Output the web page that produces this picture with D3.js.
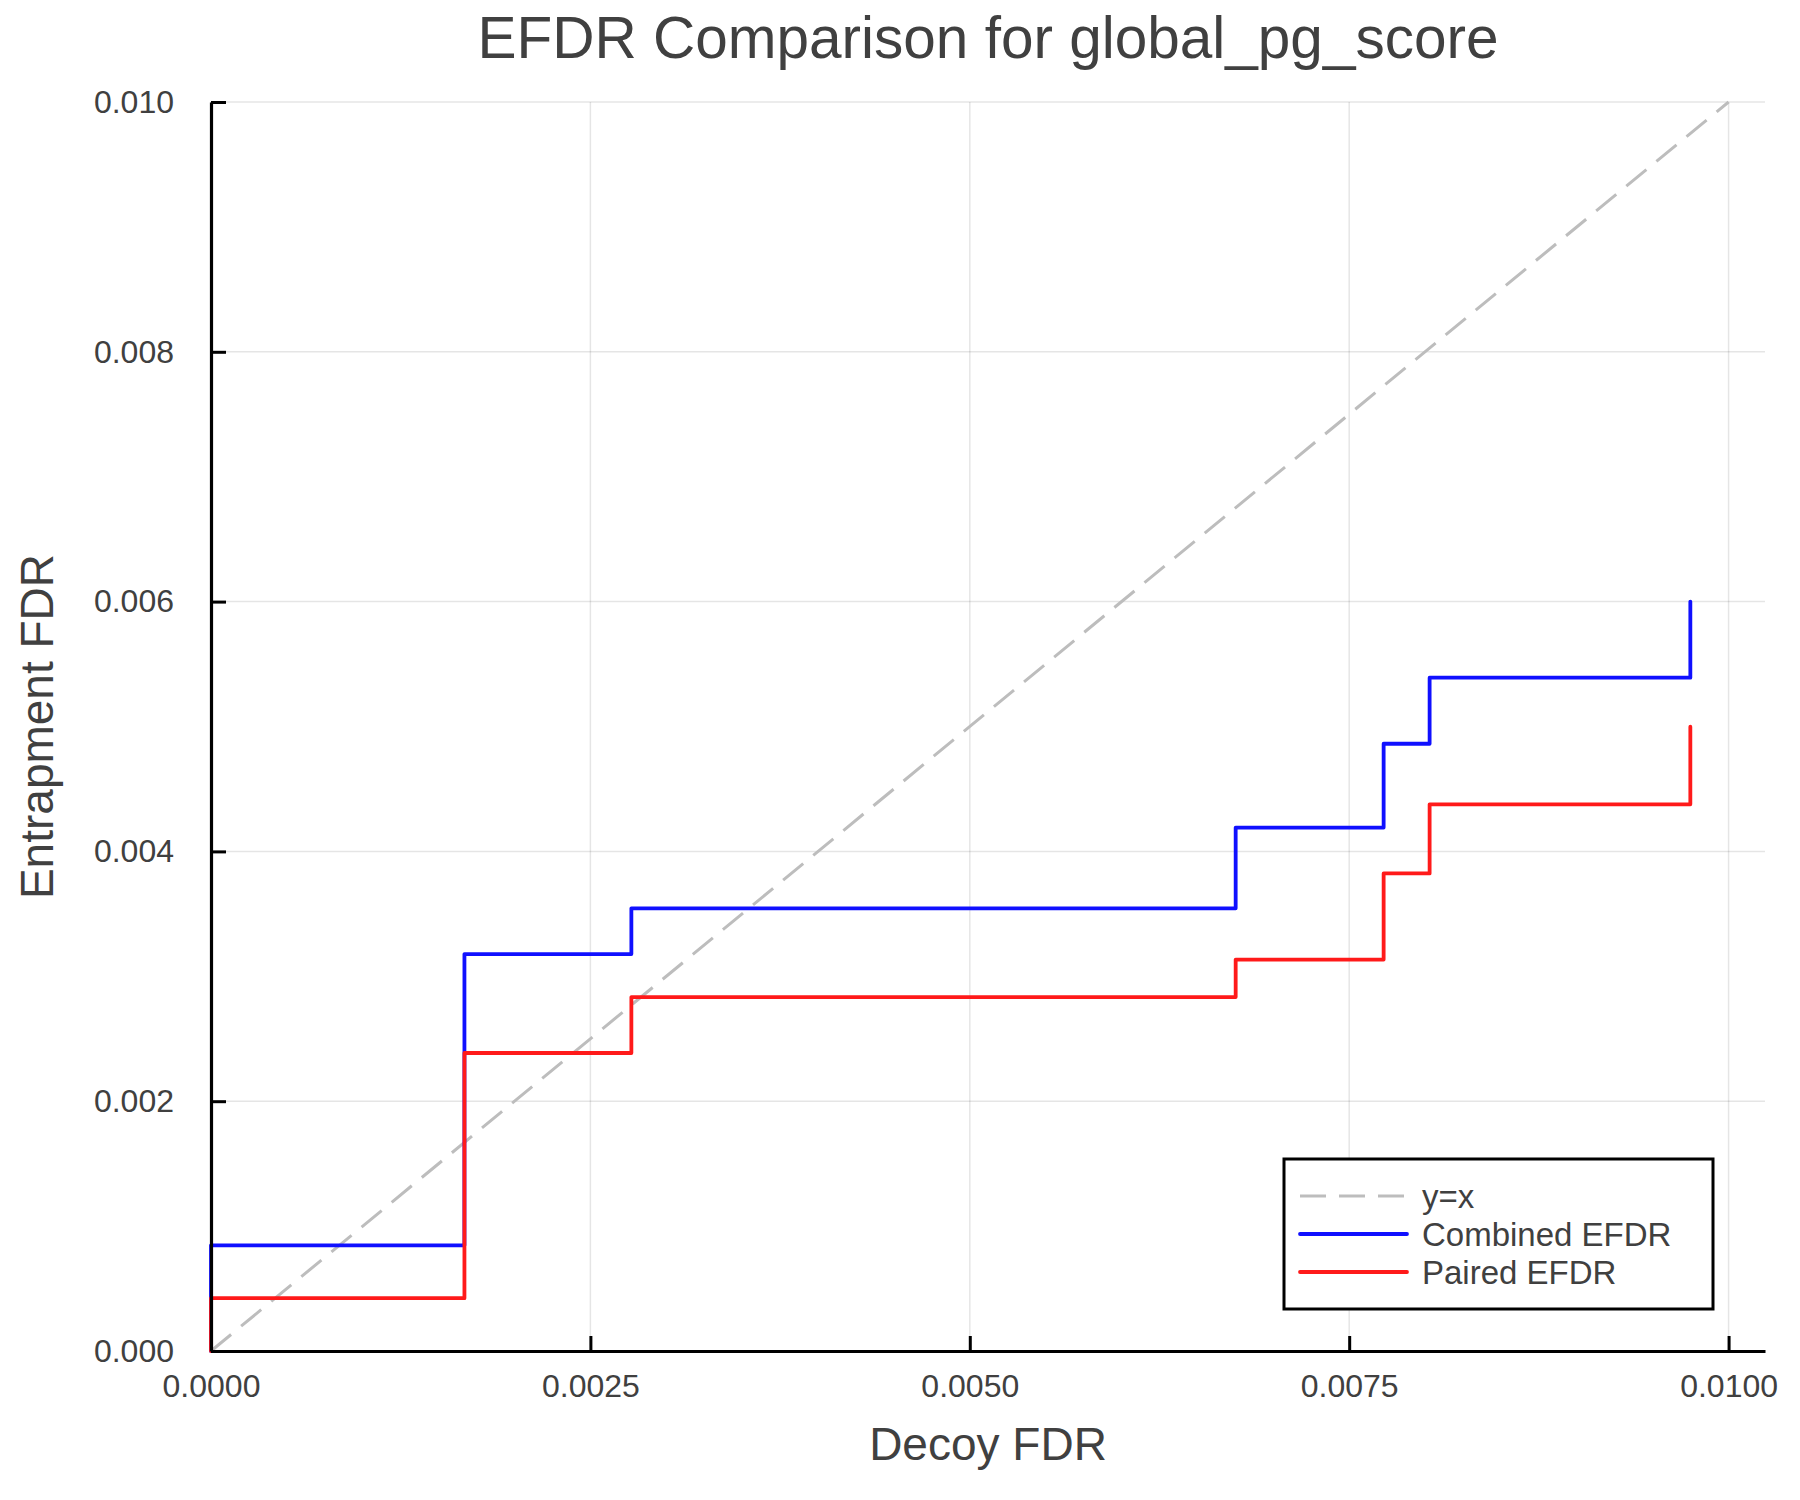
<!DOCTYPE html>
<html>
<head>
<meta charset="utf-8">
<script src="https://cdn.jsdelivr.net/npm/d3@7"></script>
<style>
  body { margin: 0; background: #fff; }
  svg text { font-family: "Liberation Sans", Arial, sans-serif; fill: #404040; }
  .axis path, .axis line { stroke: #000; stroke-width: 3; }
  .axis text { font-size: 32px; fill: #404040; }
</style>
</head>
<body>
<div id="chart"></div>
<script>

// data

var combinedX = [0, 0, 0.00167, 0.00277, 0.006752, 0.007727, 0.00803, 0.009748],
    combinedY = [0, 0.000846, 0.003178, 0.003544, 0.004191, 0.004862, 0.005391, 0.006000];

var pairedX = [0, 0, 0.00167, 0.00277, 0.006752, 0.007727, 0.00803, 0.009748],
    pairedY = [0, 0.000423, 0.002386, 0.002834, 0.003134, 0.003824, 0.004377, 0.004998];

var diagX = [0, 0.01],
    diagY = [0, 0.01];

var xTicks = [0, 0.0025, 0.005, 0.0075, 0.01],
    yTicks = [0, 0.002, 0.004, 0.006, 0.008, 0.01];

var seriesNames = ["y=x", "Combined EFDR", "Paired EFDR"],
    seriesColors = ["#bdbdbd", "#1010ff", "#ff1a1a"];

// layout

var width = 1800,
    height = 1500,
    marginTop = 102,
    marginLeft = 211,
    marginRight = 35,
    marginBottom = 149;

var widthAdj = width - marginLeft - marginRight,
    heightAdj = height - marginTop - marginBottom;

// scales

var xScale = d3.scaleLinear().domain([0, 0.01024]).range([0, widthAdj]);
var yScale = d3.scaleLinear().domain([0, 0.01]).range([heightAdj, 0]);

var svg = d3.select("#chart")
  .append("svg")
    .attr("width", width)
    .attr("height", height);

var g = svg.append("g")
  .attr("transform", "translate(" + marginLeft + "," + marginTop + ")");

// grid

g.selectAll(".xgrid")
  .data(xTicks)
  .enter()
  .append("line")
    .attr("x1", function(d) { return xScale(d); })
    .attr("x2", function(d) { return xScale(d); })
    .attr("y1", 0)
    .attr("y2", heightAdj)
    .style("stroke", "#000")
    .style("stroke-opacity", 0.1)
    .style("stroke-width", 1.5);

g.selectAll(".ygrid")
  .data(yTicks)
  .enter()
  .append("line")
    .attr("x1", 0)
    .attr("x2", widthAdj)
    .attr("y1", function(d) { return yScale(d); })
    .attr("y2", function(d) { return yScale(d); })
    .style("stroke", "#000")
    .style("stroke-opacity", 0.1)
    .style("stroke-width", 1.5);

// lines

function toPoints(xs, ys) {
  return xs.map(function(x, i) { return [x, ys[i]]; });
}

var line = d3.line()
  .x(function(d) { return xScale(d[0]); })
  .y(function(d) { return yScale(d[1]); });

var stepLine = d3.line()
  .curve(d3.curveStepAfter)
  .x(function(d) { return xScale(d[0]); })
  .y(function(d) { return yScale(d[1]); });

g.append("path")
  .attr("d", line(toPoints(diagX, diagY)))
  .style("fill", "none")
  .style("stroke", seriesColors[0])
  .style("stroke-width", 3)
  .style("stroke-dasharray", "26,13");

g.append("path")
  .attr("d", stepLine(toPoints(combinedX, combinedY)))
  .style("fill", "none")
  .style("stroke", seriesColors[1])
  .style("stroke-width", 3.8)
  .style("stroke-linecap", "round")
  .style("stroke-linejoin", "round");

g.append("path")
  .attr("d", stepLine(toPoints(pairedX, pairedY)))
  .style("fill", "none")
  .style("stroke", seriesColors[2])
  .style("stroke-width", 3.8)
  .style("stroke-linecap", "round")
  .style("stroke-linejoin", "round");

// axes

g.append("g")
  .attr("class", "axis")
  .attr("transform", "translate(0," + heightAdj + ")")
  .call(d3.axisBottom(xScale).tickValues(xTicks).tickFormat(d3.format(".4f"))
    .tickSizeInner(-15).tickSizeOuter(0).tickPadding(23));

g.append("g")
  .attr("class", "axis")
  .call(d3.axisLeft(yScale).tickValues(yTicks).tickFormat(d3.format(".3f"))
    .tickSizeInner(-15).tickSizeOuter(0).tickPadding(37));

g.selectAll(".axis .domain").style("stroke-width", 3.2);

// title and axis labels

svg.append("text")
  .attr("x", marginLeft + widthAdj / 2)
  .attr("y", 58)
  .attr("text-anchor", "middle")
  .style("font-size", "58.5px")
  .text("EFDR Comparison for global_pg_score");

svg.append("text")
  .attr("x", marginLeft + widthAdj / 2)
  .attr("y", 1460)
  .attr("text-anchor", "middle")
  .style("font-size", "46px")
  .text("Decoy FDR");

svg.append("text")
  .attr("transform", "translate(53," + (marginTop + heightAdj / 2) + ") rotate(-90)")
  .attr("text-anchor", "middle")
  .style("font-size", "46px")
  .text("Entrapment FDR");

// legend

var legend = svg.append("g")
  .attr("transform", "translate(1284,1159)");

legend.append("rect")
  .attr("width", 429)
  .attr("height", 150)
  .style("fill", "#fff")
  .style("stroke", "#000")
  .style("stroke-width", 3);

var items = legend.selectAll(".item")
  .data(seriesNames)
  .enter()
  .append("g")
    .attr("transform", function(d, i) { return "translate(0," + (37 + i * 38) + ")"; });

items.append("line")
  .attr("x1", 16)
  .attr("x2", 123)
  .style("stroke", function(d, i) { return seriesColors[i]; })
  .style("stroke-width", function(d, i) { return i == 0 ? 3 : 3.8; })
  .style("stroke-dasharray", function(d, i) { return i == 0 ? "26,13" : null; })
  .style("stroke-linecap", function(d, i) { return i == 0 ? "butt" : "round"; });

items.append("text")
  .attr("x", 138)
  .attr("dy", "0.35em")
  .style("font-size", "33px")
  .text(function(d) { return d; });

</script>
</body>
</html>
